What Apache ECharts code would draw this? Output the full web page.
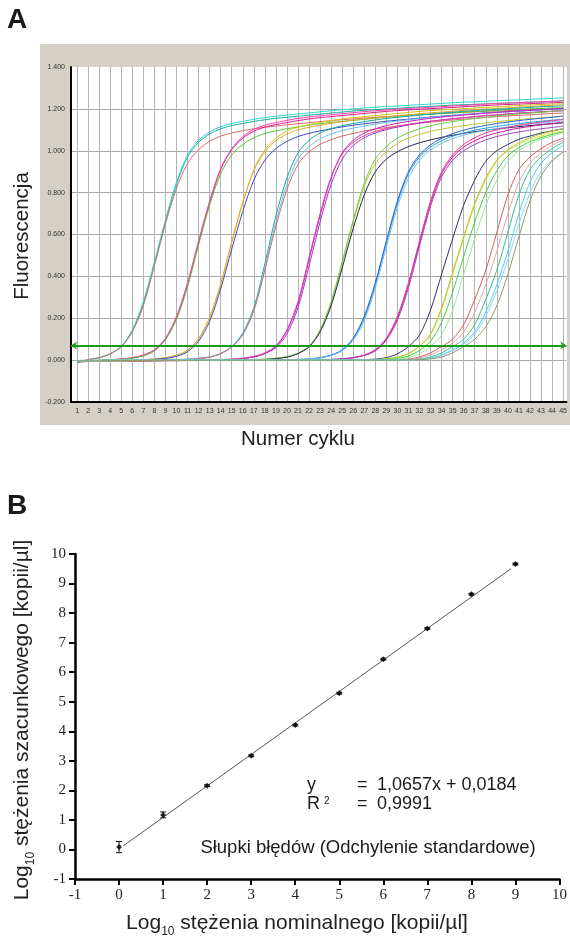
<!DOCTYPE html>
<html>
<head>
<meta charset="utf-8">
<script src="https://cdn.jsdelivr.net/npm/echarts@6/dist/echarts.min.js"></script>
<style>
html,body{margin:0;padding:0;background:#fff;}
#chart{width:570px;height:940px;}
</style>
</head>
<body>
<div id="chart"></div>
<script>
// ---------- Panel A data ----------
const cycles = [1,2,3,4,5,6,7,8,9,10,11,12,13,14,15,16,17,18,19,20,21,22,23,24,25,26,27,28,29,30,31,32,33,34,35,36,37,38,39,40,41,42,43,44,45];
const yTicksA = [-0.2,0,0.2,0.4,0.6,0.8,1.0,1.2,1.4];
const threshold = 0.065;

const g1a = [-0.012,0.002,0.012,0.031,0.065,0.14,0.27,0.46,0.66,0.84,0.97,1.04,1.08,1.105,1.12,1.13,1.14,1.148,1.155,1.16,1.165,1.17,1.175,1.18,1.185,1.19,1.193,1.196,1.2,1.203,1.206,1.209,1.212,1.215,1.218,1.22,1.222,1.224,1.226,1.228,1.23,1.232,1.234,1.236,1.238];
const g1b = [-0.015,0.000,0.010,0.030,0.066,0.145,0.28,0.47,0.67,0.85,0.98,1.05,1.09,1.115,1.13,1.14,1.15,1.158,1.165,1.17,1.176,1.181,1.186,1.191,1.196,1.2,1.204,1.208,1.211,1.214,1.217,1.22,1.223,1.226,1.229,1.232,1.234,1.236,1.239,1.241,1.243,1.246,1.248,1.25,1.253];
const g1c = [-0.008,0.003,0.012,0.030,0.063,0.135,0.26,0.45,0.65,0.82,0.94,1.005,1.045,1.07,1.085,1.096,1.105,1.112,1.118,1.124,1.129,1.134,1.139,1.144,1.148,1.152,1.156,1.16,1.163,1.166,1.169,1.172,1.175,1.178,1.181,1.184,1.186,1.188,1.19,1.192,1.194,1.196,1.198,1.2,1.202];
const g2a = [-0.005,-0.003,-0.001,0.0015,0.005,0.010,0.022,0.046,0.10,0.20,0.36,0.56,0.75,0.91,1.005,1.06,1.093,1.113,1.125,1.135,1.144,1.152,1.158,1.163,1.168,1.173,1.178,1.183,1.188,1.192,1.195,1.198,1.201,1.204,1.207,1.21,1.213,1.216,1.219,1.221,1.223,1.225,1.227,1.229,1.231];
const g2b = [-0.008,-0.004,-0.001,0.002,0.006,0.012,0.025,0.050,0.105,0.21,0.37,0.57,0.76,0.915,1.01,1.068,1.102,1.122,1.135,1.145,1.154,1.161,1.167,1.172,1.177,1.182,1.187,1.191,1.195,1.199,1.202,1.205,1.208,1.211,1.214,1.217,1.22,1.223,1.226,1.228,1.23,1.232,1.234,1.236,1.238];
const g2c = [-0.004,-0.002,0.000,0.002,0.004,0.009,0.020,0.044,0.097,0.195,0.35,0.55,0.74,0.89,0.98,1.03,1.062,1.082,1.095,1.105,1.114,1.122,1.129,1.135,1.14,1.145,1.15,1.155,1.16,1.164,1.168,1.172,1.175,1.178,1.181,1.184,1.187,1.19,1.193,1.196,1.198,1.2,1.202,1.204,1.206];
const g3a = [-0.007,-0.006,-0.005,-0.004,-0.003,-0.001,0.0015,0.005,0.010,0.022,0.046,0.10,0.20,0.36,0.56,0.75,0.91,1.005,1.06,1.093,1.113,1.125,1.135,1.144,1.152,1.158,1.163,1.168,1.173,1.178,1.183,1.188,1.192,1.195,1.198,1.201,1.204,1.207,1.21,1.213,1.216,1.219,1.221,1.223,1.225];
const g3b = [-0.004,-0.004,-0.003,-0.002,-0.001,0.000,0.003,0.006,0.012,0.024,0.048,0.102,0.205,0.365,0.565,0.755,0.905,0.995,1.048,1.08,1.1,1.112,1.122,1.131,1.139,1.146,1.152,1.157,1.162,1.167,1.172,1.177,1.181,1.185,1.189,1.193,1.196,1.199,1.202,1.205,1.208,1.211,1.214,1.217,1.22];
const g3c = [-0.006,-0.005,-0.005,-0.004,-0.003,-0.002,0.000,0.004,0.008,0.018,0.040,0.09,0.185,0.34,0.53,0.71,0.86,0.955,1.01,1.045,1.068,1.083,1.095,1.105,1.114,1.122,1.129,1.135,1.141,1.146,1.151,1.156,1.161,1.165,1.169,1.173,1.177,1.181,1.184,1.187,1.19,1.193,1.196,1.199,1.202];
const g4a = [-0.006,-0.005,-0.004,-0.003,-0.003,-0.002,-0.001,0.000,0.000,0.001,0.004,0.008,0.015,0.032,0.065,0.13,0.25,0.46,0.69,0.87,0.99,1.05,1.085,1.105,1.12,1.13,1.139,1.147,1.154,1.16,1.165,1.17,1.175,1.18,1.184,1.188,1.192,1.195,1.198,1.201,1.204,1.207,1.21,1.212,1.214];
const g4b = [-0.004,-0.004,-0.003,-0.003,-0.002,-0.001,0.000,0.001,0.001,0.002,0.005,0.009,0.016,0.033,0.064,0.125,0.24,0.44,0.66,0.84,0.96,1.02,1.057,1.08,1.096,1.108,1.118,1.127,1.135,1.142,1.148,1.154,1.159,1.164,1.168,1.172,1.176,1.18,1.183,1.186,1.189,1.192,1.195,1.197,1.199];
const g4c = [-0.008,-0.007,-0.006,-0.005,-0.004,-0.003,-0.002,-0.001,0.000,0.001,0.003,0.007,0.014,0.030,0.062,0.12,0.235,0.43,0.64,0.815,0.935,0.995,1.03,1.053,1.07,1.083,1.094,1.103,1.111,1.118,1.125,1.131,1.137,1.142,1.147,1.151,1.155,1.159,1.163,1.166,1.169,1.172,1.175,1.178,1.18];
const g5a = [-0.006,-0.005,-0.005,-0.004,-0.004,-0.003,-0.003,-0.002,-0.002,-0.001,-0.001,0.000,0.000,0.001,0.003,0.007,0.015,0.032,0.065,0.14,0.27,0.48,0.69,0.87,0.99,1.05,1.085,1.105,1.12,1.131,1.14,1.148,1.155,1.161,1.166,1.171,1.175,1.179,1.183,1.187,1.19,1.193,1.196,1.199,1.202];
const g5b = [-0.004,-0.004,-0.003,-0.003,-0.002,-0.002,-0.001,-0.001,0.000,0.000,0.001,0.001,0.001,0.002,0.004,0.008,0.016,0.031,0.060,0.125,0.25,0.45,0.66,0.84,0.96,1.025,1.062,1.085,1.101,1.113,1.123,1.132,1.14,1.147,1.153,1.158,1.163,1.168,1.172,1.176,1.18,1.183,1.186,1.189,1.192];
const g5c = [-0.008,-0.007,-0.006,-0.006,-0.005,-0.004,-0.004,-0.003,-0.002,-0.002,-0.001,0.000,0.001,0.002,0.005,0.009,0.018,0.035,0.068,0.145,0.28,0.49,0.70,0.875,0.985,1.04,1.072,1.092,1.106,1.117,1.126,1.134,1.141,1.147,1.153,1.158,1.163,1.167,1.171,1.175,1.179,1.182,1.185,1.188,1.191];
const g6a = [-0.005,-0.005,-0.004,-0.004,-0.003,-0.003,-0.002,-0.002,-0.001,-0.001,0.000,0.000,0.000,0.001,0.001,0.001,0.002,0.004,0.008,0.016,0.033,0.065,0.14,0.27,0.46,0.66,0.83,0.94,0.995,1.035,1.06,1.078,1.092,1.103,1.112,1.12,1.127,1.133,1.139,1.144,1.149,1.153,1.157,1.161,1.165];
const g6b = [-0.003,-0.003,-0.003,-0.002,-0.002,-0.002,-0.001,-0.001,-0.001,0.000,0.000,0.001,0.001,0.001,0.002,0.002,0.003,0.005,0.009,0.017,0.034,0.067,0.145,0.28,0.47,0.67,0.845,0.96,1.02,1.06,1.086,1.105,1.119,1.13,1.139,1.147,1.154,1.16,1.166,1.171,1.176,1.18,1.184,1.188,1.192];
const g6c = [-0.006,-0.006,-0.005,-0.005,-0.004,-0.004,-0.003,-0.003,-0.002,-0.002,-0.001,-0.001,0.000,0.000,0.000,0.001,0.001,0.003,0.007,0.014,0.031,0.063,0.135,0.26,0.44,0.63,0.79,0.9,0.96,0.995,1.02,1.038,1.052,1.064,1.074,1.083,1.091,1.098,1.104,1.11,1.115,1.12,1.125,1.129,1.133];
const g7a = [-0.004,-0.004,-0.003,-0.003,-0.003,-0.002,-0.002,-0.002,-0.001,-0.001,-0.001,0.000,0.000,0.000,0.000,0.001,0.001,0.001,0.001,0.001,0.0015,0.005,0.011,0.023,0.047,0.10,0.20,0.36,0.56,0.75,0.89,0.97,1.017,1.048,1.07,1.085,1.098,1.108,1.116,1.124,1.13,1.136,1.141,1.146,1.151];
const g7b = [-0.006,-0.005,-0.005,-0.004,-0.004,-0.003,-0.003,-0.003,-0.002,-0.002,-0.001,-0.001,-0.001,0.000,0.000,0.000,0.000,0.001,0.001,0.001,0.003,0.006,0.012,0.024,0.049,0.105,0.21,0.37,0.57,0.76,0.9,0.98,1.028,1.06,1.082,1.098,1.111,1.121,1.13,1.137,1.144,1.15,1.155,1.16,1.165];
const g7c = [-0.002,-0.002,-0.002,-0.001,-0.001,-0.001,0.000,0.000,0.000,0.000,0.001,0.001,0.001,0.001,0.002,0.002,0.002,0.002,0.002,0.002,0.004,0.006,0.011,0.022,0.045,0.095,0.19,0.345,0.54,0.73,0.87,0.955,1.003,1.035,1.058,1.074,1.087,1.097,1.106,1.114,1.121,1.127,1.132,1.137,1.142];
const g8a = [-0.004,-0.004,-0.004,-0.003,-0.003,-0.003,-0.002,-0.002,-0.002,-0.001,-0.001,-0.001,0.000,0.000,0.000,0.000,0.000,0.001,0.001,0.001,0.001,0.001,0.001,0.0015,0.005,0.011,0.023,0.047,0.10,0.20,0.36,0.56,0.75,0.89,0.97,1.017,1.048,1.07,1.085,1.098,1.108,1.116,1.124,1.13,1.136];
const g8b = [-0.006,-0.006,-0.005,-0.005,-0.004,-0.004,-0.004,-0.003,-0.003,-0.003,-0.002,-0.002,-0.002,-0.001,-0.001,-0.001,0.000,0.000,0.000,0.000,0.001,0.001,0.001,0.003,0.006,0.012,0.025,0.05,0.105,0.21,0.37,0.57,0.76,0.9,0.98,1.03,1.062,1.085,1.1,1.112,1.122,1.13,1.137,1.143,1.149];
const g8c = [-0.002,-0.002,-0.002,-0.002,-0.001,-0.001,-0.001,-0.001,0.000,0.000,0.000,0.000,0.000,0.001,0.001,0.001,0.001,0.001,0.002,0.002,0.002,0.002,0.002,0.004,0.007,0.012,0.022,0.044,0.095,0.19,0.345,0.545,0.735,0.875,0.955,1.0,1.03,1.052,1.068,1.08,1.09,1.098,1.105,1.111,1.117];
const g9a = [-0.003,-0.003,-0.003,-0.002,-0.002,-0.002,-0.002,-0.001,-0.001,-0.001,-0.001,0.000,0.000,0.000,0.000,0.000,0.000,0.000,0.001,0.001,0.001,0.001,0.001,0.001,0.001,0.001,0.002,0.005,0.012,0.03,0.065,0.12,0.24,0.41,0.58,0.74,0.86,0.95,1.0,1.03,1.055,1.07,1.085,1.095,1.105];
const g9b = [-0.005,-0.005,-0.004,-0.004,-0.004,-0.003,-0.003,-0.003,-0.002,-0.002,-0.002,-0.002,-0.001,-0.001,-0.001,-0.001,0.000,0.000,0.000,0.000,0.000,0.000,0.001,0.001,0.001,0.001,0.001,0.002,0.005,0.012,0.03,0.065,0.12,0.24,0.41,0.58,0.74,0.86,0.95,1.0,1.03,1.055,1.07,1.085,1.095];
const g9c = [-0.002,-0.002,-0.002,-0.002,-0.002,-0.002,-0.001,-0.001,-0.001,-0.001,-0.001,-0.001,0.000,0.000,0.000,0.000,0.000,0.000,0.000,0.000,0.001,0.001,0.001,0.001,0.001,0.001,0.002,0.004,0.007,0.014,0.032,0.068,0.125,0.25,0.42,0.59,0.75,0.87,0.955,1.005,1.038,1.062,1.08,1.094,1.106];
const g9d = [-0.004,-0.004,-0.003,-0.003,-0.003,-0.002,-0.002,-0.002,-0.002,-0.001,-0.001,-0.001,-0.001,0.000,0.000,0.000,0.000,0.000,0.000,0.000,0.000,0.000,0.000,0.000,0.000,0.000,0.000,0.001,0.0035,0.008,0.02,0.046,0.09,0.18,0.325,0.495,0.66,0.80,0.905,0.975,1.015,1.043,1.062,1.078,1.09];
const g9e = [-0.001,-0.001,-0.001,-0.001,0.000,0.000,0.000,0.000,0.000,0.000,0.000,0.001,0.001,0.001,0.001,0.001,0.001,0.001,0.001,0.001,0.001,0.001,0.001,0.001,0.001,0.001,0.001,0.001,0.002,0.005,0.012,0.03,0.065,0.12,0.24,0.41,0.58,0.74,0.86,0.95,1.0,1.03,1.055,1.07,1.085];
const g10a = [-0.003,-0.003,-0.002,-0.002,-0.002,-0.002,-0.001,-0.001,-0.001,-0.001,-0.001,0.000,0.000,0.000,0.000,0.000,0.000,0.000,0.000,0.000,0.000,0.000,0.000,0.000,0.000,0.000,0.000,0.000,0.001,0.002,0.005,0.015,0.035,0.065,0.10,0.17,0.29,0.43,0.61,0.79,0.91,0.97,1.01,1.04,1.06];
const g10b = [-0.006,-0.005,-0.005,-0.004,-0.004,-0.003,-0.003,-0.003,-0.002,-0.002,-0.002,-0.002,-0.001,-0.001,-0.001,-0.001,-0.001,0.000,0.000,0.000,0.000,0.000,0.000,0.000,0.000,0.000,0.000,0.000,0.000,0.001,0.0035,0.01,0.025,0.05,0.082,0.135,0.23,0.36,0.52,0.70,0.85,0.94,0.99,1.025,1.05];
const g10c = [-0.002,-0.002,-0.002,-0.002,-0.001,-0.001,-0.001,-0.001,-0.001,0.000,0.000,0.000,0.000,0.000,0.000,0.000,0.000,0.000,0.000,0.000,0.001,0.001,0.001,0.001,0.001,0.001,0.001,0.001,0.001,0.001,0.002,0.005,0.015,0.035,0.065,0.10,0.17,0.29,0.43,0.61,0.79,0.91,0.97,1.01,1.04];
const g10d = [-0.004,-0.004,-0.003,-0.003,-0.003,-0.002,-0.002,-0.002,-0.002,-0.001,-0.001,-0.001,-0.001,-0.001,0.000,0.000,0.000,0.000,0.000,0.000,0.000,0.000,0.000,0.000,0.000,0.000,0.000,0.000,0.000,0.000,0.001,0.0035,0.01,0.025,0.05,0.082,0.135,0.23,0.36,0.52,0.70,0.85,0.94,0.99,1.025];
const g10e = [-0.001,-0.001,-0.001,0.000,0.000,0.000,0.000,0.000,0.000,0.000,0.001,0.001,0.001,0.001,0.001,0.001,0.001,0.001,0.001,0.001,0.001,0.001,0.001,0.001,0.001,0.001,0.001,0.001,0.001,0.001,0.001,0.003,0.009,0.022,0.046,0.076,0.125,0.21,0.33,0.48,0.65,0.8,0.9,0.955,0.995];
const g10f = [-0.003,-0.003,-0.003,-0.002,-0.002,-0.002,-0.002,-0.001,-0.001,-0.001,-0.001,-0.001,0.000,0.000,0.000,0.000,0.000,0.000,0.000,0.000,0.000,0.000,0.000,0.000,0.000,0.000,0.000,0.000,0.000,0.000,0.001,0.002,0.006,0.015,0.035,0.065,0.10,0.16,0.26,0.41,0.59,0.76,0.88,0.95,0.995];

const curveData = [g1a,g1b,g1c,g2a,g2b,g2c,g3a,g3b,g3c,g4a,g4b,g4c,g5a,g5b,g5c,g6a,g6b,g6c,g7a,g7b,g7c,g8a,g8b,g8c,g9a,g9b,g9c,g9d,g9e,g10a,g10b,g10c,g10d,g10e,g10f];
const curveColors = ['#1fb0a0','#2ad8d0','#e06868','#d81b8a','#ff44aa','#56c43c','#d6c41a','#e0aa30','#3a4cc8','#1aa8a8','#6cc0e8','#d46a6a','#c81cc0','#9a34d6','#ec3c9c','#bcc82a','#72cc4a','#262650','#24a2e2','#2c62d2','#72c2f2','#d412a8','#f23692','#a444c8','#30306e','#e4dc48','#a8cc2c','#3ed43e','#9ae89a','#d45c5c','#e8a4a4','#2ec48c','#48d2ea','#8cd4ff','#8c9c5c'];

// ---------- Panel B data ----------
const nominal = [0,1,2,3,4,5,6,7,8,9];
const estimated = [0.08,1.17,2.16,3.17,4.21,5.29,6.44,7.48,8.64,9.66];
const sdev = [0.19,0.10,0.03,0.03,0.03,0.03,0.03,0.03,0.03,0.03];
const fitX = [0.1, 8.9];
const fitY = [0.125, 9.503];

const chart = echarts.init(document.getElementById('chart'), null, {renderer:'canvas'});
const SANS = '"Liberation Sans", Arial, sans-serif';
const SERIF = '"Liberation Serif", "Times New Roman", serif';

const seriesA = curveData.map((arr, i) => ({
  type:'line', xAxisIndex:0, yAxisIndex:0,
  data: cycles.map((c, j) => [c, arr[j]]),
  showSymbol:false, smooth:0.3, silent:true,
  lineStyle:{width:1, color:curveColors[i]},
  z: 2
}));

seriesA.push({
  type:'line', xAxisIndex:0, yAxisIndex:0, data:[], silent:true,
  markLine:{
    silent:true, symbol:['arrow','arrow'], symbolSize:6,
    label:{show:false},
    lineStyle:{color:'#1c9a1c', width:2, type:'solid'},
    data:[{yAxis:threshold}]
  },
  z: 5
});

const seriesB = [
  {
    type:'line', xAxisIndex:1, yAxisIndex:1,
    data: fitX.map((x,i)=>[x, fitY[i]]),
    showSymbol:false, silent:true,
    lineStyle:{color:'#555', width:1}
  },
  {
    type:'custom', xAxisIndex:1, yAxisIndex:1, silent:true,
    data: nominal.map((x,i)=>[x, estimated[i], sdev[i]]),
    renderItem:(params, api)=>{
      const x = api.value(0), y = api.value(1), e = api.value(2);
      const t = api.coord([x, y+e]), b = api.coord([x, y-e]);
      const w = 3;
      const st = {stroke:'#111', lineWidth:1};
      return {type:'group', children:[
        {type:'line', shape:{x1:t[0],y1:t[1],x2:b[0],y2:b[1]}, style:st},
        {type:'line', shape:{x1:t[0]-w,y1:t[1],x2:t[0]+w,y2:t[1]}, style:st},
        {type:'line', shape:{x1:b[0]-w,y1:b[1],x2:b[0]+w,y2:b[1]}, style:st}
      ]};
    },
    z: 3
  },
  {
    type:'scatter', xAxisIndex:1, yAxisIndex:1, silent:true,
    data: nominal.map((x,i)=>[x, estimated[i]]),
    symbol:'diamond', symbolSize:6,
    itemStyle:{color:'#000'},
    z: 4
  }
];

const option = {
  animation:false,
  backgroundColor:'#fff',
  grid:[
    {left:71, top:67, width:496, height:335, containLabel:false},
    {left:75, top:554, width:488, height:325, containLabel:false}
  ],
  xAxis:[
    {
      gridIndex:0, type:'value', min:0.45, max:45.3,
      axisLine:{show:true, onZero:false, lineStyle:{color:'#000', width:2}},
      axisTick:{show:false, customValues:cycles},
      axisLabel:{customValues:cycles, fontSize:7, color:'#333', fontFamily:SANS, margin:6},
      splitLine:{show:true, lineStyle:{color:'#b4b4b4', width:1}}
    },
    {
      gridIndex:1, type:'value', min:-1, max:10, interval:1,
      axisLine:{show:true, onZero:false, lineStyle:{color:'#000', width:2.5}},
      axisTick:{show:true, inside:false, length:6, lineStyle:{color:'#000', width:2}},
      axisLabel:{fontSize:15, color:'#222', fontFamily:SERIF, margin:9},
      splitLine:{show:false}
    }
  ],
  yAxis:[
    {
      gridIndex:0, type:'value', min:-0.2, max:1.4, interval:0.2,
      axisLine:{show:true, onZero:false, lineStyle:{color:'#000', width:2}},
      axisTick:{show:false},
      axisLabel:{fontSize:7, color:'#333', fontFamily:SANS, margin:6, formatter:v=>v.toFixed(3)},
      splitLine:{show:true, showMaxLine:false, lineStyle:{color:'#a8a8a8', width:1}}
    },
    {
      gridIndex:1, type:'value', min:-1, max:10, interval:1,
      axisLine:{show:true, onZero:false, lineStyle:{color:'#000', width:2.5}},
      axisTick:{show:true, inside:false, length:6, lineStyle:{color:'#000', width:2}},
      axisLabel:{fontSize:15, color:'#222', fontFamily:SERIF, margin:9},
      splitLine:{show:false}
    }
  ],
  graphic:[
    {type:'rect', z:-10, silent:true, shape:{x:40,y:44,width:530,height:381}, style:{fill:'#d4d0c8'}},
    {type:'rect', z:-9, silent:true, shape:{x:71,y:67,width:496,height:335}, style:{fill:'#ffffff'}},
    {type:'text', x:7, y:6, silent:true, style:{text:'A', font:'bold 28px '+SANS, fill:'#1a1a1a', align:'left', verticalAlign:'top'}},
    {type:'text', x:22, y:236, rotation:Math.PI/2, silent:true, style:{text:'Fluorescencja', font:'20.5px '+SANS, fill:'#222', align:'center', verticalAlign:'middle'}},
    {type:'text', x:298, y:439, silent:true, style:{text:'Numer cyklu', font:'20.5px '+SANS, fill:'#222', align:'center', verticalAlign:'middle'}},
    {type:'text', x:7, y:492, silent:true, style:{text:'B', font:'bold 28px '+SANS, fill:'#1a1a1a', align:'left', verticalAlign:'top'}},
    {type:'text', x:22, y:720, rotation:Math.PI/2, silent:true, style:{
      text:'{a|Log}{s|10}{a| stężenia szacunkowego [kopii/µl]}',
      align:'center', verticalAlign:'middle',
      rich:{
        a:{fontSize:21, fontFamily:SANS, fill:'#222', lineHeight:30},
        s:{fontSize:12, fontFamily:SANS, fill:'#222', lineHeight:12, verticalAlign:'bottom'}
      }
    }},
    {type:'text', x:297, y:923, silent:true, style:{
      text:'{a|Log}{s|10}{a| stężenia nominalnego [kopii/µl]}',
      align:'center', verticalAlign:'middle',
      rich:{
        a:{fontSize:21, fontFamily:SANS, fill:'#222', lineHeight:30},
        s:{fontSize:12, fontFamily:SANS, fill:'#222', lineHeight:12, verticalAlign:'bottom'}
      }
    }},
    {type:'text', x:307, y:785, silent:true, style:{text:'y', font:'18px '+SANS, fill:'#1a1a1a', align:'left', verticalAlign:'middle'}},
    {type:'text', x:357, y:785, silent:true, style:{text:'=', font:'18px '+SANS, fill:'#1a1a1a', align:'left', verticalAlign:'middle'}},
    {type:'text', x:377, y:785, silent:true, style:{text:'1,0657x + 0,0184', font:'18px '+SANS, fill:'#1a1a1a', align:'left', verticalAlign:'middle'}},
    {type:'text', x:307, y:804, silent:true, style:{
      text:'{a|R}{p|2}', align:'left', verticalAlign:'middle',
      rich:{
        a:{fontSize:18, fontFamily:SANS, fill:'#1a1a1a', lineHeight:22},
        p:{fontSize:10, fontFamily:SANS, fill:'#1a1a1a', lineHeight:10, verticalAlign:'top', padding:[3,0,0,4]}
      }
    }},
    {type:'text', x:357, y:804, silent:true, style:{text:'=', font:'18px '+SANS, fill:'#1a1a1a', align:'left', verticalAlign:'middle'}},
    {type:'text', x:377, y:804, silent:true, style:{text:'0,9991', font:'18px '+SANS, fill:'#1a1a1a', align:'left', verticalAlign:'middle'}},
    {type:'text', x:368, y:848, silent:true, style:{text:'Słupki błędów (Odchylenie standardowe)', font:'18.5px '+SANS, fill:'#1a1a1a', align:'center', verticalAlign:'middle'}}
  ],
  series: seriesA.concat(seriesB)
};
chart.setOption(option);
</script>
</body>
</html>
